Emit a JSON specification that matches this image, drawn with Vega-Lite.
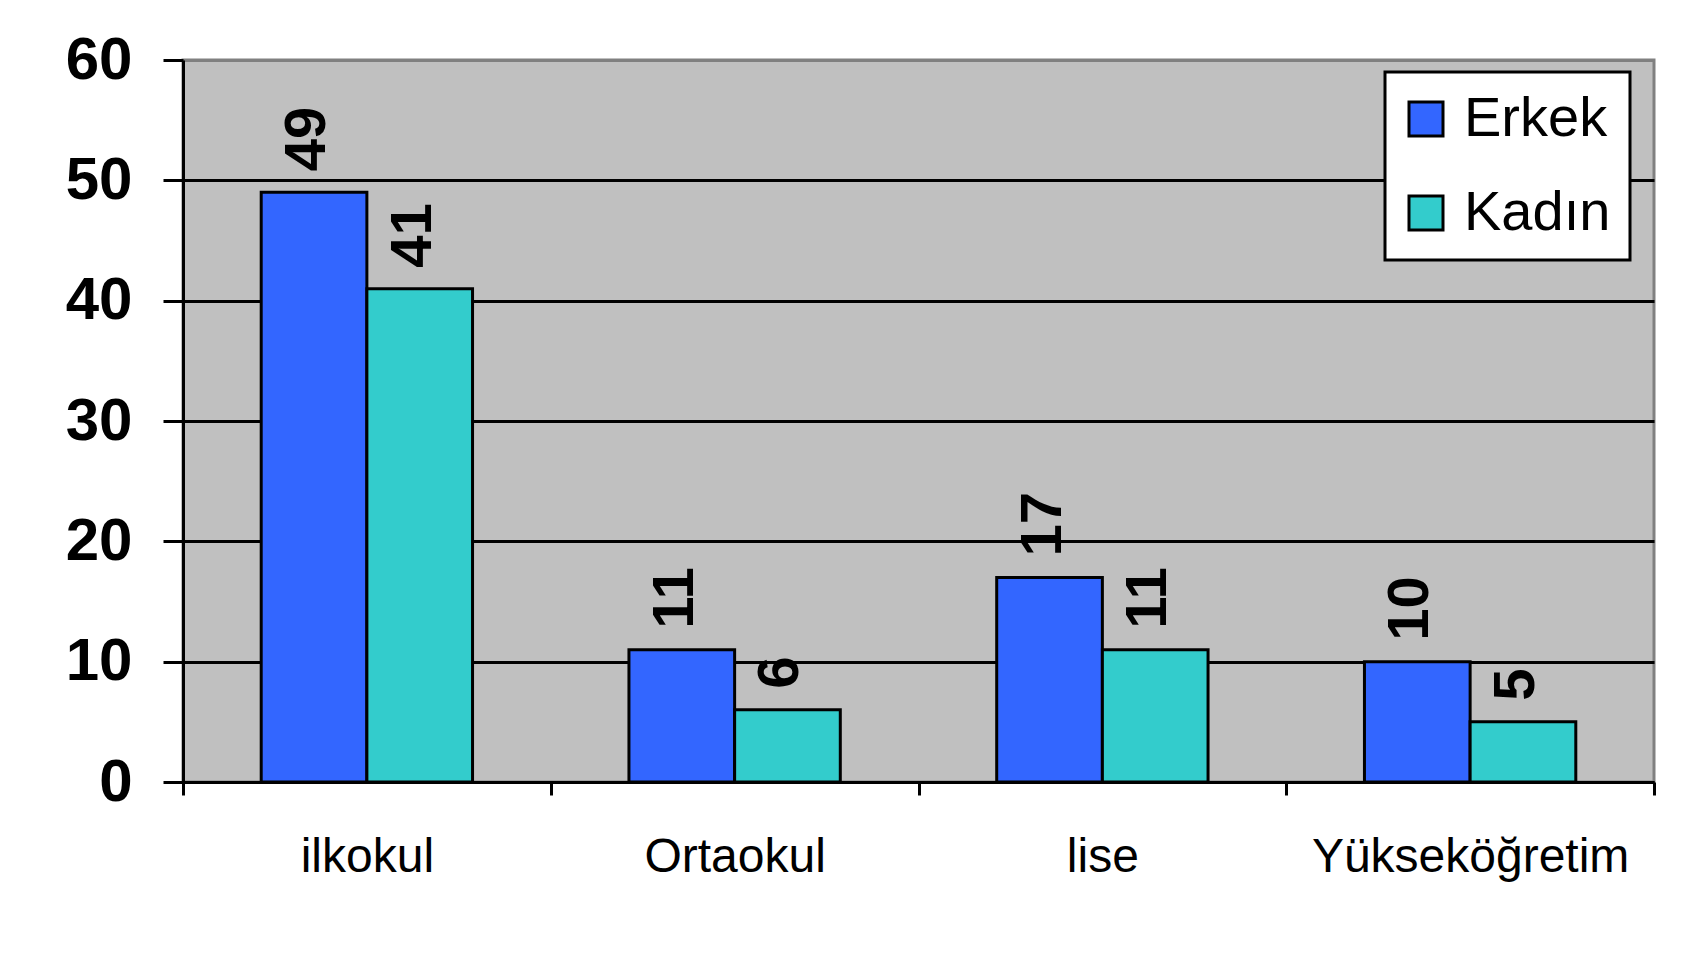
{
  "$schema": "https://vega.github.io/schema/vega-lite/v6.json",
  "width": 1471,
  "height": 722,
  "autosize": "none",
  "padding": {"left": 183, "top": 60, "right": 50, "bottom": 179},
  "background": "white",
  "config": {
    "view": {"fill": "#C0C0C0", "stroke": "#808080", "strokeWidth": 3},
    "font": "Liberation Sans",
    "legend": {"strokeWidth": 3}
  },
  "data": {
    "values": [
      {"level": "ilkokul", "gender": "Erkek", "value": 49},
      {"level": "ilkokul", "gender": "Kadın", "value": 41},
      {"level": "Ortaokul", "gender": "Erkek", "value": 11},
      {"level": "Ortaokul", "gender": "Kadın", "value": 6},
      {"level": "lise", "gender": "Erkek", "value": 17},
      {"level": "lise", "gender": "Kadın", "value": 11},
      {"level": "Yükseköğretim", "gender": "Erkek", "value": 10},
      {"level": "Yükseköğretim", "gender": "Kadın", "value": 5}
    ]
  },
  "encoding": {
    "x": {
      "field": "level",
      "type": "nominal",
      "sort": ["ilkokul", "Ortaokul", "lise", "Yükseköğretim"],
      "scale": {"paddingInner": 0, "paddingOuter": 0},
      "axis": {
        "title": null,
        "labelAngle": 0,
        "labelFontSize": 48,
        "labelFont": "Liberation Sans",
        "labelColor": "black",
        "labelPadding": 38,
        "labelLimit": 0,
        "tickBand": "extent",
        "tickSize": 13,
        "tickWidth": 3,
        "tickColor": "black",
        "domainColor": "black",
        "domainWidth": 3
      }
    },
    "xOffset": {
      "field": "gender",
      "type": "nominal",
      "sort": ["Erkek", "Kadın"],
      "scale": {"paddingOuter": 0.74, "paddingInner": 0}
    },
    "y": {
      "field": "value",
      "type": "quantitative",
      "scale": {"domain": [0, 60], "nice": false},
      "axis": {
        "title": null,
        "values": [0, 10, 20, 30, 40, 50, 60],
        "labelFontSize": 60,
        "labelFontWeight": "bold",
        "labelFont": "Liberation Sans",
        "labelColor": "black",
        "labelPadding": 31,
        "tickSize": 20,
        "tickWidth": 3,
        "tickColor": "black",
        "domainColor": "black",
        "domainWidth": 3,
        "grid": true,
        "gridColor": {"condition": {"test": "datum.value == 60", "value": "#808080"}, "value": "black"},
        "gridWidth": 3,
        "gridOpacity": 1
      }
    }
  },
  "layer": [
    {
      "mark": {"type": "bar", "stroke": "black", "strokeWidth": 3},
      "encoding": {
        "color": {
          "field": "gender",
          "type": "nominal",
          "sort": ["Erkek", "Kadın"],
          "scale": {"domain": ["Erkek", "Kadın"], "range": ["#3366FF", "#33CCCC"]},
          "legend": {
            "title": null,
            "orient": "none",
            "legendX": 1202,
            "legendY": 12,
            "fillColor": "white",
            "strokeColor": "black",
            "padding": 19,
            "symbolType": "square",
            "symbolSize": 1156,
            "symbolOffset": -6,
            "symbolStrokeColor": "black",
            "symbolStrokeWidth": 3,
            "symbolOpacity": 1,
            "labelFontSize": 56,
            "labelFont": "Liberation Sans",
            "labelColor": "black",
            "labelOffset": 10,
            "rowPadding": 38
          }
        }
      }
    },
    {
      "mark": {
        "type": "text",
        "angle": 270,
        "align": "left",
        "baseline": "middle",
        "fontSize": 58,
        "fontWeight": "bold",
        "font": "Liberation Sans",
        "color": "black",
        "yOffset": -21,
        "dy": -6
      },
      "encoding": {
        "text": {"field": "value", "type": "quantitative"}
      }
    }
  ]
}
